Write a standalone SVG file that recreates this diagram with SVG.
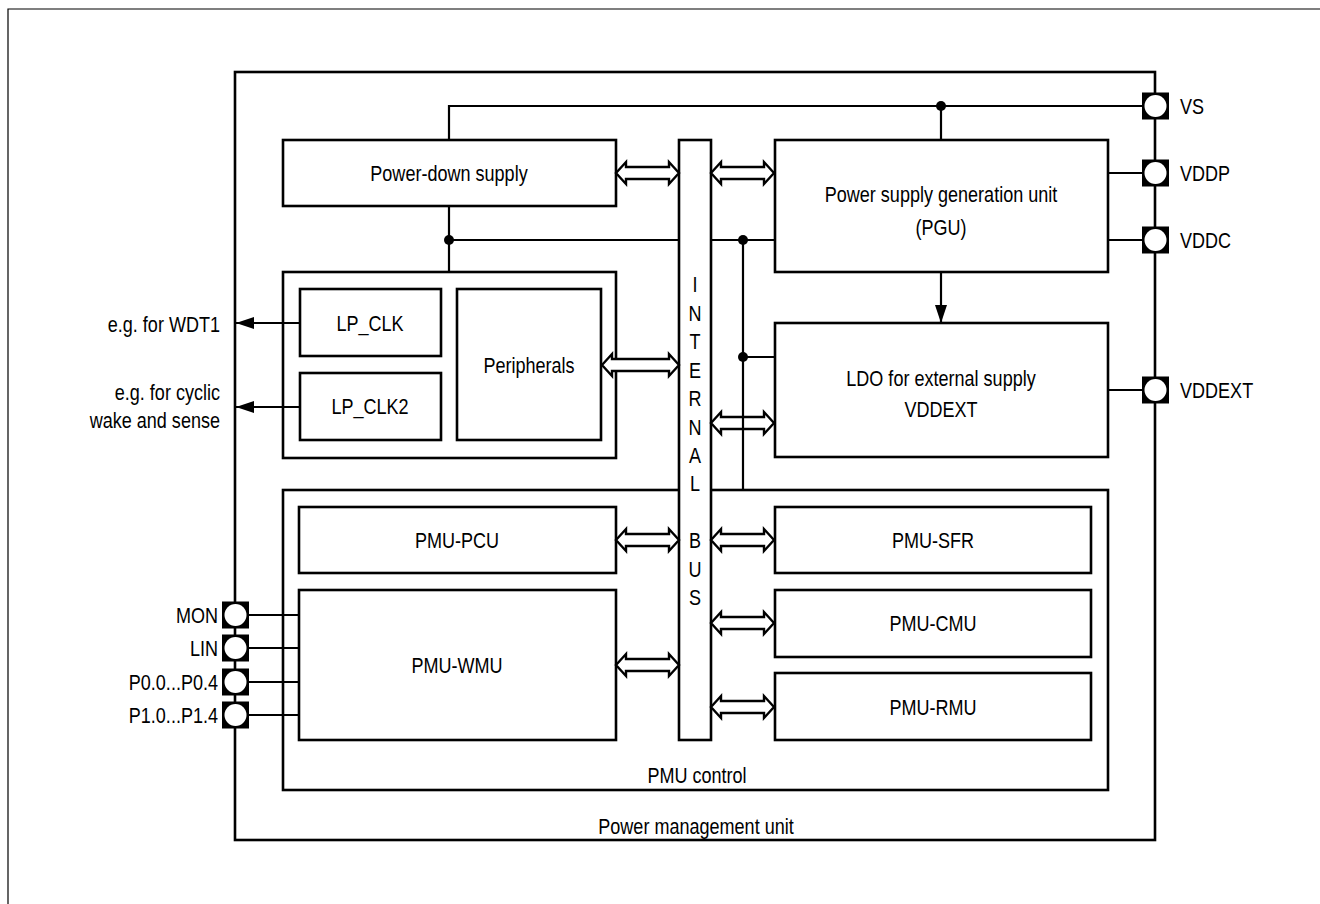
<svg xmlns="http://www.w3.org/2000/svg" width="1320" height="904" viewBox="0 0 1320 904">
<style>
.box{fill:#fff;stroke:#000;stroke-width:2.6}
.ln{fill:none;stroke:#000;stroke-width:2.2}
.da{fill:#fff;stroke:#000;stroke-width:2.4;stroke-linejoin:miter}
text{font-family:"Liberation Sans",Arial,sans-serif;font-size:22px;fill:#000}
.m{text-anchor:middle}
.e{text-anchor:end}
.pinb{fill:#000}
.pinc{fill:#fff}
</style>
<defs>
<polygon id="da63" class="da" points="0,0 10,-11 10,-6 53,-6 53,-11 63,0 53,11 53,6 10,6 10,11"/>
<polygon id="da77" class="da" points="0,0 10,-11 10,-6 67,-6 67,-11 77,0 67,11 67,6 10,6 10,11"/>
<g id="pin"><rect class="pinb" x="-13.5" y="-13.5" width="27" height="27"/><circle class="pinc" r="11"/></g>
<marker id="ah" viewBox="0 0 18 12" refX="18" refY="6" markerWidth="18" markerHeight="12" markerUnits="userSpaceOnUse" orient="auto"><path d="M0,0 L18,6 L0,12 Z" fill="#000"/></marker>
</defs>
<rect width="1320" height="904" fill="#fff"/>
<path d="M8,904 V9 H1320" fill="none" stroke="#000" stroke-width="1.2"/>

<g id="pmu">
<rect class="box" x="235" y="72" width="920" height="768"/>
<text transform="translate(696,834) scale(.82,1)" class="m">Power management unit</text>
</g>

<g id="pmu-control">
<rect class="box" x="283" y="490" width="825" height="300"/>
<text transform="translate(697,783) scale(.82,1)" class="m">PMU control</text>
</g>

<g id="lp-group">
<rect class="box" x="283" y="272" width="333" height="186"/>
</g>

<g id="power-down-supply">
<rect class="box" x="283" y="140" width="333" height="66"/>
<text transform="translate(449,181) scale(.82,1)" class="m">Power-down supply</text>
</g>

<g id="internal-bus">
<rect class="box" x="679" y="140" width="32" height="600"/>
<g transform="translate(695,0) scale(.82,1)">
<text class="m" y="292">I</text>
<text class="m" y="321">N</text>
<text class="m" y="349">T</text>
<text class="m" y="378">E</text>
<text class="m" y="406">R</text>
<text class="m" y="435">N</text>
<text class="m" y="463">A</text>
<text class="m" y="491">L</text>
<text class="m" y="548">B</text>
<text class="m" y="577">U</text>
<text class="m" y="605">S</text>
</g>
</g>

<g id="pgu">
<rect class="box" x="775" y="140" width="333" height="132"/>
<text transform="translate(941,202) scale(.82,1)" class="m">Power supply generation unit</text>
<text transform="translate(941,235) scale(.82,1)" class="m">(PGU)</text>
</g>

<g id="ldo">
<rect class="box" x="775" y="323" width="333" height="134"/>
<text transform="translate(941,386) scale(.82,1)" class="m">LDO for external supply</text>
<text transform="translate(941,417) scale(.82,1)" class="m">VDDEXT</text>
</g>

<g id="lp-clk">
<rect class="box" x="300" y="289" width="141" height="67"/>
<text transform="translate(370,331) scale(.82,1)" class="m">LP_CLK</text>
</g>
<g id="lp-clk2">
<rect class="box" x="300" y="373" width="141" height="67"/>
<text transform="translate(370,414) scale(.82,1)" class="m">LP_CLK2</text>
</g>
<g id="peripherals">
<rect class="box" x="457" y="289" width="144" height="151"/>
<text transform="translate(529,373) scale(.82,1)" class="m">Peripherals</text>
</g>

<g id="pmu-pcu">
<rect class="box" x="299" y="507" width="317" height="66"/>
<text transform="translate(457,548) scale(.82,1)" class="m">PMU-PCU</text>
</g>
<g id="pmu-wmu">
<rect class="box" x="299" y="590" width="317" height="150"/>
<text transform="translate(457,673) scale(.82,1)" class="m">PMU-WMU</text>
</g>
<g id="pmu-sfr">
<rect class="box" x="775" y="507" width="316" height="66"/>
<text transform="translate(933,548) scale(.82,1)" class="m">PMU-SFR</text>
</g>
<g id="pmu-cmu">
<rect class="box" x="775" y="590" width="316" height="67"/>
<text transform="translate(933,631) scale(.82,1)" class="m">PMU-CMU</text>
</g>
<g id="pmu-rmu">
<rect class="box" x="775" y="673" width="316" height="67"/>
<text transform="translate(933,715) scale(.82,1)" class="m">PMU-RMU</text>
</g>

<g id="connectors">
<use href="#da63" x="616" y="173"/>
<use href="#da63" x="711" y="173"/>
<use href="#da77" x="602" y="365"/>
<use href="#da63" x="711" y="423"/>
<use href="#da63" x="616" y="540"/>
<use href="#da63" x="711" y="540"/>
<use href="#da63" x="711" y="623"/>
<use href="#da63" x="616" y="665"/>
<use href="#da63" x="711" y="707"/>
<path class="ln" d="M449,140 V106 H1142 M941,106 V140"/>
<path class="ln" d="M449,206 V272 M449,240 H679 M711,240 H775 M743,240 V490 M743,357 H775"/>
<path class="ln" d="M1108,173 H1142 M1108,240 H1142 M1108,390 H1142"/>
<path class="ln" d="M941,272 V323" marker-end="url(#ah)"/>
<path class="ln" d="M300,323 H236" marker-end="url(#ah)"/>
<path class="ln" d="M300,407 H236" marker-end="url(#ah)"/>
<path class="ln" d="M249,615 H299 M249,648 H299 M249,682 H299 M249,715 H299"/>
<circle cx="941" cy="106" r="5"/>
<circle cx="449" cy="240" r="5"/>
<circle cx="743" cy="240" r="5"/>
<circle cx="743" cy="357" r="5"/>
</g>

<g id="pins-right">
<use href="#pin" x="1155.5" y="106"/>
<use href="#pin" x="1155.5" y="173"/>
<use href="#pin" x="1155.5" y="240"/>
<use href="#pin" x="1155.5" y="390"/>
<text transform="translate(1180,114) scale(.82,1)">VS</text>
<text transform="translate(1180,181) scale(.82,1)">VDDP</text>
<text transform="translate(1180,248) scale(.82,1)">VDDC</text>
<text transform="translate(1180,398) scale(.82,1)">VDDEXT</text>
</g>

<g id="pins-left">
<use href="#pin" x="235.5" y="615"/>
<use href="#pin" x="235.5" y="648"/>
<use href="#pin" x="235.5" y="682"/>
<use href="#pin" x="235.5" y="715"/>
<text transform="translate(218,623) scale(.82,1)" class="e">MON</text>
<text transform="translate(218,656) scale(.82,1)" class="e">LIN</text>
<text transform="translate(218,690) scale(.82,1)" class="e">P0.0...P0.4</text>
<text transform="translate(218,723) scale(.82,1)" class="e">P1.0...P1.4</text>
</g>

<g id="labels-left">
<text transform="translate(220,332) scale(.82,1)" class="e">e.g. for WDT1</text>
<text transform="translate(220,400) scale(.82,1)" class="e">e.g. for cyclic</text>
<text transform="translate(220,428) scale(.82,1)" class="e">wake and sense</text>
</g>
</svg>
